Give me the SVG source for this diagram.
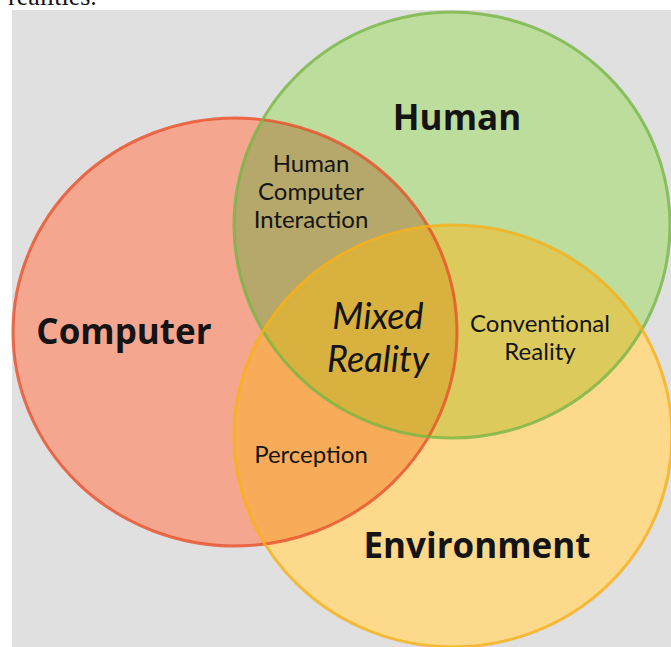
<svg xmlns="http://www.w3.org/2000/svg" width="671" height="647" viewBox="0 0 671 647">
  <style>
    .lbl { font-family: "Open Sans", "Noto Sans", "Liberation Sans", sans-serif; fill: #141414; text-anchor: middle; }
    .big { font-size: 35px; font-weight: 700; }
    .mid { font-family: Lato, "Open Sans", "Liberation Sans", sans-serif; font-size: 24px; }
    .it { font-family: Lato, "Open Sans", "Liberation Sans", sans-serif; font-size: 36px; font-style: italic; }
    .edge { fill: none; stroke-width: 3; stroke-opacity: 0.8; }
  </style>
  <defs>
    <ellipse id="eRed" cx="235" cy="332" rx="222" ry="214"/>
    <ellipse id="eGreen" cx="452" cy="225" rx="218" ry="213"/>
    <ellipse id="eYellow" cx="453" cy="436" rx="219" ry="211"/>
    <clipPath id="cRed"><use href="#eRed"/></clipPath>
    <clipPath id="cGreen"><use href="#eGreen"/></clipPath>
  </defs>
  <rect x="0" y="0" width="671" height="647" fill="#ffffff"/>
  <rect x="12" y="10" width="659" height="637" fill="#e0e0e0"/>
  <text x="8" y="5" font-family="Liberation Serif, serif" font-size="26" fill="#111">realities.</text>

  <g id="computer">
    <use href="#eRed" fill="#f5a68f"/>
  </g>
  <g id="human">
    <use href="#eGreen" fill="#bddd9d"/>
  </g>
  <g id="environment">
    <use href="#eYellow" fill="#fdda8b"/>
  </g>
  <g id="overlaps">
    <g clip-path="url(#cRed)"><use href="#eGreen" fill="#b5a86a"/></g>
    <g clip-path="url(#cGreen)"><use href="#eYellow" fill="#dccb5c"/></g>
    <g clip-path="url(#cRed)"><use href="#eYellow" fill="#f8ac5a"/></g>
    <g clip-path="url(#cGreen)"><g clip-path="url(#cRed)"><use href="#eYellow" fill="#d8b13e"/></g></g>
  </g>
  <g id="outlines">
    <use href="#eRed" class="edge" stroke="#e8502a"/>
    <use href="#eGreen" class="edge" stroke="#78b545"/>
    <use href="#eYellow" class="edge" stroke="#f5b01a"/>
  </g>

  <g id="labels">
    <text class="lbl big" x="457" y="130">Human</text>
    <text class="lbl big" x="124" y="344">Computer</text>
    <text class="lbl big" x="477" y="558" font-size="34">Environment</text>
    <g id="hci">
      <text class="lbl mid" x="311" y="172">Human</text>
      <text class="lbl mid" x="311" y="200">Computer</text>
      <text class="lbl mid" x="311" y="228">Interaction</text>
    </g>
    <g id="mixed">
      <text class="lbl it" x="378" y="329">Mixed</text>
      <text class="lbl it" x="378" y="372">Reality</text>
    </g>
    <g id="conventional">
      <text class="lbl mid" x="540" y="332">Conventional</text>
      <text class="lbl mid" x="540" y="360">Reality</text>
    </g>
    <text id="perception" class="lbl mid" x="311" y="463">Perception</text>
  </g>
</svg>
